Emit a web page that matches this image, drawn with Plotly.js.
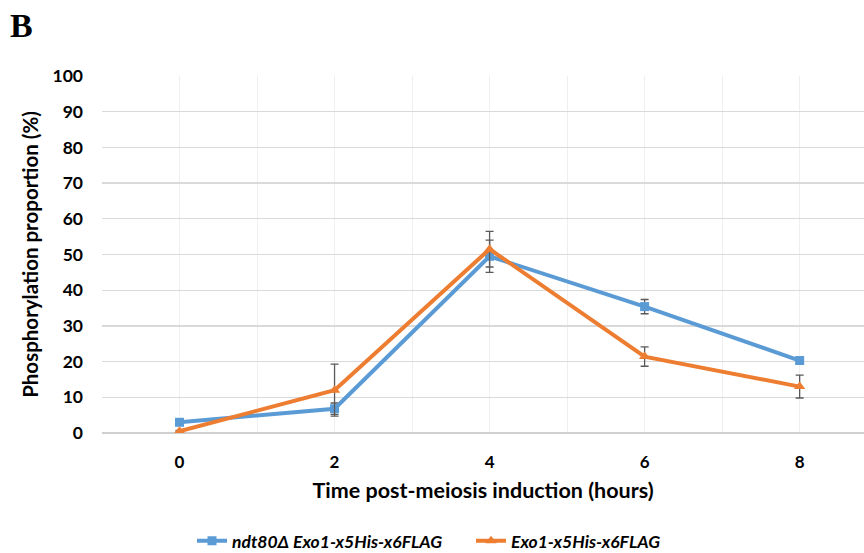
<!DOCTYPE html>
<html>
<head>
<meta charset="utf-8">
<script src="https://cdn.plot.ly/plotly-3.0.1.min.js"></script>
<style>html,body{margin:0;padding:0;background:#fff;}#chart{width:864px;height:553px;}</style>
</head>
<body>
<div id="chart"></div>
<script>
const hours = [0, 2, 4, 6, 8];
const ndt80Values = [3.0, 6.8, 49.5, 35.4, 20.3];
const ndt80Errors = [0.3, 1.6, 4.5, 2.0, 0.8];
const exo1Values = [0.5, 12.0, 51.5, 21.4, 13.0];
const exo1Errors = [0.2, 7.3, 5.0, 2.7, 3.2];
const xTickVals = [-1, 0, 1, 2, 3, 4, 5, 6, 7, 8];
const xTickText = ['', '0', '', '2', '', '4', '', '6', '', '8'];
const seriesNames = ['ndt80Δ Exo1-x5His-x6FLAG', 'Exo1-x5His-x6FLAG'];

const font = 'Lato, "Open Sans", "Liberation Sans", sans-serif';

const traces = [
  {
    x: hours, y: ndt80Values, name: seriesNames[0], type: 'scatter', mode: 'lines+markers',
    line: {color: '#5B9BD5', width: 4},
    marker: {symbol: 'square', size: 9, color: '#5B9BD5'},
    error_y: {type: 'data', array: ndt80Errors, visible: true, color: '#595959', thickness: 1.3, width: 4}
  },
  {
    x: hours, y: exo1Values, name: seriesNames[1], type: 'scatter', mode: 'lines+markers',
    line: {color: '#ED7D31', width: 4},
    marker: {symbol: 'triangle-up', size: 10, color: '#ED7D31'},
    error_y: {type: 'data', array: exo1Errors, visible: true, color: '#595959', thickness: 1.3, width: 4}
  }
];

const layout = {
  width: 864, height: 553,
  margin: {l: 102, r: 0, t: 76, b: 120, autoexpand: false},
  paper_bgcolor: '#ffffff', plot_bgcolor: '#ffffff',
  font: {family: font, color: '#000000'},
  showlegend: true,
  legend: {
    orientation: 'h', x: (192 - 102) / 762, xanchor: 'left', xref: 'paper',
    y: -0.302, yanchor: 'middle',
    font: {family: font, size: 17.5, color: '#000', weight: 'bold', style: 'italic'},
    itemwidth: 30, entrywidth: 234, entrywidthmode: 'pixels'
  },
  xaxis: {
    range: [-1, 8.83],
    tickmode: 'array', tickvals: xTickVals, ticktext: xTickText,
    showgrid: true, gridcolor: '#efefef', gridwidth: 1,
    zeroline: false, showline: false, ticks: '',
    tickfont: {family: font, size: 17, weight: 'bold', color: '#000'},
    ticklabelstandoff: 17,
    title: {text: 'Time post-meiosis induction (hours)', standoff: 11,
            font: {family: font, size: 21.5, weight: 'bold', color: '#000'}}
  },
  yaxis: {
    range: [0, 100], dtick: 10,
    showgrid: true, gridcolor: '#d9d9d9', gridwidth: 1.3,
    zeroline: true, zerolinecolor: '#d0d0d0', zerolinewidth: 1.3,
    showline: false, ticks: '',
    tickfont: {family: font, size: 17.5, weight: 'bold', color: '#000'},
    ticklabelstandoff: 18,
    title: {text: 'Phosphorylation proportion (%)', standoff: 8,
            font: {family: font, size: 20.5, weight: 'bold', color: '#000'}}
  },
  annotations: [
    {text: 'B', x: (8 - 102) / 762, y: (553 - 120 - 25) / 357, xref: 'paper', yref: 'paper', showarrow: false,
     xanchor: 'left', yanchor: 'middle',
     font: {family: '"Liberation Serif", "DejaVu Serif", serif', size: 34, weight: 'bold', color: '#000'}}
  ]
};

Plotly.newPlot('chart', traces, layout, {displayModeBar: false, staticPlot: true});
</script>
</body>
</html>
